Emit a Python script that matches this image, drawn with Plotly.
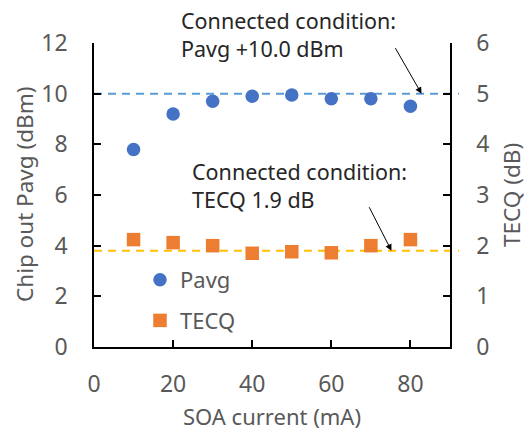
import plotly.graph_objects as go

# ---- data ----
soa_current = [10, 20, 30, 40, 50, 60, 70, 80]
pavg_dbm = [7.8, 9.2, 9.7, 9.9, 9.95, 9.8, 9.8, 9.5]
tecq_db = [2.12, 2.06, 2.0, 1.85, 1.88, 1.86, 2.0, 2.12]
pavg_target = 10.0
tecq_target = 1.9
x_ticks = [0, 20, 40, 60, 80]
y_left_ticks = [0, 2, 4, 6, 8, 10, 12]
y_right_ticks = [0, 1, 2, 3, 4, 5, 6]

FONT = "Noto Sans"
GRAY = "#595959"
DARK = "#262626"

fig = go.Figure()
fig.add_trace(go.Scatter(
    x=soa_current, y=pavg_dbm, mode="markers", name="Pavg",
    legendgroup="a",
    marker=dict(symbol="circle", size=13.5, color="#4472C4"),
    yaxis="y", cliponaxis=False))
fig.add_trace(go.Scatter(
    x=soa_current, y=tecq_db, mode="markers", name="TECQ",
    legendgroup="b",
    marker=dict(symbol="square", size=13.5, color="#ED7D31"),
    yaxis="y2", cliponaxis=False))

fig.add_shape(type="line", xref="paper", yref="y", x0=0, x1=1.025,
              y0=pavg_target, y1=pavg_target,
              line=dict(color="#5B9BD5", width=2, dash="8px,6px"), layer="below")
fig.add_shape(type="line", xref="paper", yref="y2", x0=0, x1=1.025,
              y0=tecq_target, y1=tecq_target,
              line=dict(color="#FFC000", width=2, dash="8px,6px"), layer="below")

annotations = [
    dict(text="Connected condition:<br>Pavg +10.0 dBm", xref="paper", yref="paper",
         x=(179 - 94) / 356, y=(347 - 4) / 304, xanchor="left", yanchor="top",
         align="left", showarrow=False, font=dict(size=21.5, color=DARK, family=FONT)),
    dict(text="Connected condition:<br>TECQ 1.9 dB", xref="paper", yref="paper",
         x=(190 - 94) / 356, y=(347 - 155) / 304, xanchor="left", yanchor="top",
         align="left", showarrow=False, font=dict(size=21.5, color=DARK, family=FONT)),
    dict(text="", x=82.8, y=pavg_target, xref="x", yref="y",
         showarrow=True, ax=-27, ay=-47, arrowhead=2, arrowsize=1.3,
         arrowwidth=1, arrowcolor="#000000"),
    dict(text="", x=75.2, y=tecq_target, xref="x", yref="y2",
         showarrow=True, ax=-23, ay=-45, arrowhead=2, arrowsize=1.3,
         arrowwidth=1, arrowcolor="#000000"),
    dict(text="Chip out Pavg (dBm)", xref="paper", yref="paper",
         x=(24 - 94) / 356, y=0.5, xanchor="center", yanchor="middle",
         textangle=-90, showarrow=False,
         font=dict(size=22.5, color=GRAY, family=FONT)),
    dict(text="TECQ (dB)", xref="paper", yref="paper",
         x=(511 - 94) / 356, y=0.5, xanchor="center", yanchor="middle",
         textangle=-90, showarrow=False,
         font=dict(size=22.5, color=GRAY, family=FONT)),
    dict(text="SOA current (mA)", xref="paper", yref="paper",
         x=0.5, y=(347 - 416) / 304, xanchor="center", yanchor="middle",
         showarrow=False,
         font=dict(size=22, color=GRAY, family=FONT)),
]

axis_common = dict(showline=True, linecolor="#000000", linewidth=1.5,
                   ticks="inside", ticklen=7, tickwidth=1.5, tickcolor="#000000",
                   showgrid=False, zeroline=False,
                   tickfont=dict(size=23, color=GRAY, family=FONT))

fig.update_layout(
    width=530, height=432,
    margin=dict(l=94, r=80, t=43, b=85),
    paper_bgcolor="white", plot_bgcolor="white",
    font=dict(family=FONT, color=GRAY),
    xaxis=dict(range=[0, 90], tickvals=x_ticks, ticklabelstandoff=16, **axis_common),
    yaxis=dict(range=[0, 12], tickvals=y_left_ticks, ticklabelstandoff=20, **axis_common),
    yaxis2=dict(range=[0, 6], tickvals=y_right_ticks, overlaying="y", side="right",
                anchor="x", ticklabelstandoff=20, **axis_common),
    showlegend=True,
    legend=dict(x=(140 - 94) / 356, y=(347 - 259) / 304, xanchor="left", yanchor="top",
                bgcolor="rgba(0,0,0,0)", borderwidth=0, tracegroupgap=9,
                font=dict(size=22, color=GRAY, family=FONT)),
    annotations=annotations,
)

fig.write_html("out.html")
